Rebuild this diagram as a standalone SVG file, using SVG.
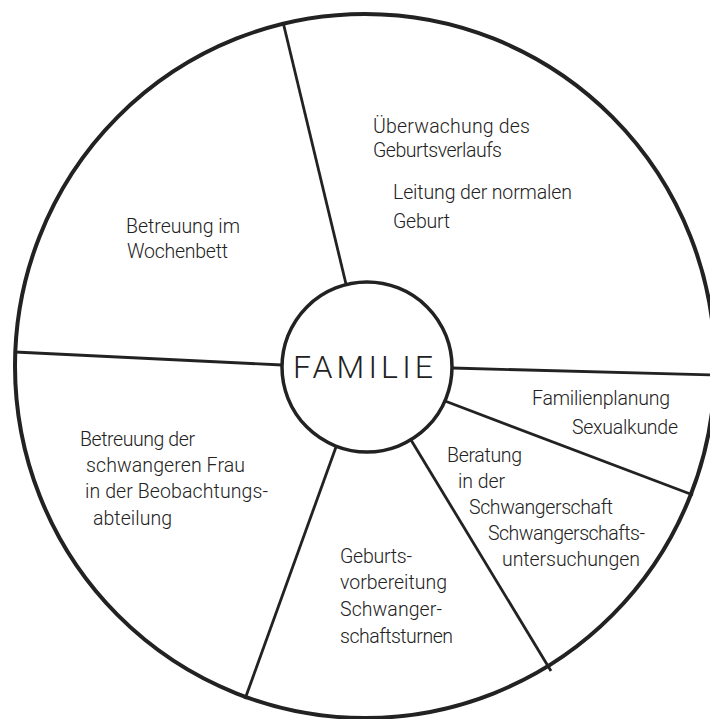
<svg xmlns="http://www.w3.org/2000/svg" width="710" height="719" viewBox="0 0 710 719">
  <style>
    .ring { fill: none; stroke: #222; stroke-width: 4; }
    .hub { fill: #fff; stroke: #222; stroke-width: 3.5; }
    .spoke { stroke: #222; stroke-width: 2.8; stroke-linecap: butt; fill: none; }
    .lbl { font-family: Roboto, "Liberation Sans", Arial, sans-serif; font-weight: 300; font-size: 19.5px; fill: #222; }
    .hubtxt { font-family: Roboto, "Liberation Sans", Arial, sans-serif; font-weight: 300; font-size: 32px; fill: #222; }
  </style>
  <rect width="710" height="719" fill="#fff"/>

  <g id="outer-ring">
    <ellipse class="ring" cx="365" cy="366" rx="350" ry="352"/>
  </g>

  <g id="connectors">
    <line class="spoke" x1="346" y1="284" x2="283" y2="22"/>
    <line class="spoke" x1="282" y1="365" x2="15" y2="352"/>
    <line class="spoke" x1="452" y1="368" x2="712" y2="375"/>
    <line class="spoke" x1="445" y1="401" x2="693" y2="495"/>
    <line class="spoke" x1="411" y1="440" x2="551" y2="671"/>
    <line class="spoke" x1="336" y1="447" x2="245" y2="699"/>
  </g>

  <g id="familie">
    <circle class="hub" cx="367" cy="367" r="85"/>
    <text class="hubtxt" x="293" y="378" textLength="140" lengthAdjust="spacing">FAMILIE</text>
  </g>

  <g id="geburt">
    <text class="lbl" x="373" y="133" textLength="157" lengthAdjust="spacing">Überwachung des</text>
    <text class="lbl" x="373" y="157" textLength="129" lengthAdjust="spacing">Geburtsverlaufs</text>
    <text class="lbl" x="393" y="199" textLength="179" lengthAdjust="spacing">Leitung der normalen</text>
    <text class="lbl" x="393" y="228" textLength="57" lengthAdjust="spacing">Geburt</text>
  </g>

  <g id="wochenbett">
    <text class="lbl" x="126" y="233" textLength="114" lengthAdjust="spacing">Betreuung im</text>
    <text class="lbl" x="127" y="258" textLength="101" lengthAdjust="spacing">Wochenbett</text>
  </g>

  <g id="beobachtung">
    <text class="lbl" x="80" y="446" textLength="115" lengthAdjust="spacing">Betreuung der</text>
    <text class="lbl" x="86" y="472" textLength="159" lengthAdjust="spacing">schwangeren Frau</text>
    <text class="lbl" x="85" y="498" textLength="183" lengthAdjust="spacing">in der Beobachtungs-</text>
    <text class="lbl" x="93" y="525" textLength="79" lengthAdjust="spacing">abteilung</text>
  </g>

  <g id="familienplanung">
    <text class="lbl" x="532" y="405" textLength="138" lengthAdjust="spacing">Familienplanung</text>
    <text class="lbl" x="572" y="434" textLength="106" lengthAdjust="spacing">Sexualkunde</text>
  </g>

  <g id="beratung">
    <text class="lbl" x="447" y="462" textLength="75" lengthAdjust="spacing">Beratung</text>
    <text class="lbl" x="458" y="488" textLength="47" lengthAdjust="spacing">in der</text>
    <text class="lbl" x="469" y="514" textLength="144" lengthAdjust="spacing">Schwangerschaft</text>
    <text class="lbl" x="488" y="540" textLength="157" lengthAdjust="spacing">Schwangerschafts-</text>
    <text class="lbl" x="502" y="566" textLength="138" lengthAdjust="spacing">untersuchungen</text>
  </g>

  <g id="geburtsvorbereitung">
    <text class="lbl" x="340" y="563" textLength="72" lengthAdjust="spacing">Geburts-</text>
    <text class="lbl" x="340" y="589" textLength="107" lengthAdjust="spacing">vorbereitung</text>
    <text class="lbl" x="340" y="616" textLength="102" lengthAdjust="spacing">Schwanger-</text>
    <text class="lbl" x="340" y="643" textLength="113" lengthAdjust="spacing">schaftsturnen</text>
  </g>
</svg>
